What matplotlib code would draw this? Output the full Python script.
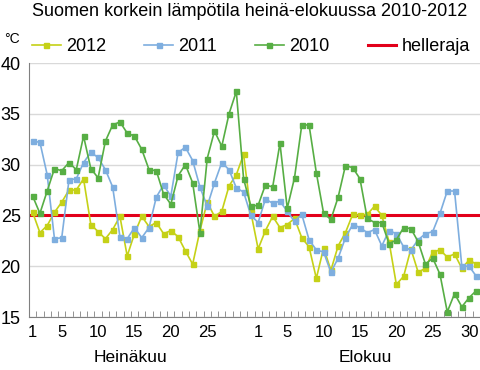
import numpy as np
import matplotlib.pyplot as plt

plt.rcParams['font.family'] = ['Liberation Sans', 'DejaVu Sans']

# highest daily temperature in Finland, July + August (31 + 31 days)
t2012 = [25.3, 23.3, 24.0, 25.3, 26.3, 27.5, 27.5, 28.6, 24.1, 23.4,
         22.7, 23.6, 24.9, 21.0, 23.2, 24.9, 23.9, 24.3, 23.2, 23.5,
         22.9, 21.5, 20.2, 23.5, 26.3, 24.9, 25.4, 27.9, 29.0, 31.0, 25.3,
         21.7, 23.5, 24.9, 23.8, 24.1, 24.7, 22.8, 21.9, 18.8, 21.8,
         19.6, 22.0, 23.3, 25.1, 25.0, 25.1, 25.9, 25.0, 22.4, 18.2,
         19.0, 21.7, 19.4, 19.8, 21.4, 21.6, 20.9, 21.2, 19.8, 20.6, 20.2]
t2011 = [32.3, 32.2, 29.0, 22.7, 22.8, 28.5, 28.6, 30.2, 31.2, 30.7,
         29.5, 27.8, 22.9, 22.7, 23.8, 22.8, 23.8, 26.8, 28.0, 26.9,
         31.2, 31.7, 30.4, 27.8, 25.9, 28.2, 30.2, 29.5, 27.7, 27.3, 25.0,
         24.3, 26.6, 26.2, 26.4, 25.4, 24.4, 25.1, 22.6, 21.6, 21.4,
         19.4, 20.8, 22.8, 24.1, 23.8, 23.3, 23.6, 22.0, 23.5, 23.2,
         21.9, 21.6, 22.6, 23.2, 23.4, 25.2, 27.4, 27.4, 20.0, 20.0, 19.0]
t2010 = [26.9, 25.2, 27.4, 29.6, 29.4, 30.2, 29.5, 32.8, 29.6, 28.7,
         32.3, 33.9, 34.2, 33.1, 32.8, 31.5, 29.5, 29.4, 27.1, 26.1,
         28.9, 30.0, 28.2, 23.3, 30.6, 33.3, 31.8, 35.0, 37.2, 28.6, 25.9,
         26.0, 28.0, 27.8, 32.1, 25.7, 28.7, 33.9, 33.9, 29.2, 25.2,
         24.6, 26.8, 29.9, 29.7, 28.6, 24.7, 24.3, 24.3, 22.2, 22.6,
         23.8, 23.7, 22.4, 20.2, 20.8, 19.2, 15.5, 17.3, 16.0, 16.9, 17.6]
helleraja = 25

july_ticks = [1, 5, 10, 15, 20, 25]
august_ticks = [1, 5, 10, 15, 20, 25, 30]
months = ['Heinäkuu', 'Elokuu']

x = np.arange(len(t2012))

fig = plt.figure(figsize=(4.8, 3.7), dpi=100)
ax = fig.add_axes([29 / 480, 53 / 370, 451 / 480, 254 / 370])

ax.axhline(helleraja, color='#E2001A', lw=2.2, zorder=2, label='helleraja')
series = [('2012', t2012, '#C5D117'), ('2011', t2011, '#7EAEDF'), ('2010', t2010, '#57AE44')]
for name, vals, col in series:
    ax.plot(x, vals, color=col, lw=1.2, marker='s', ms=3.6, label=name, zorder=3)

ax.set_xlim(-0.5, len(x) - 0.5)
ax.set_ylim(15, 40)
ax.set_yticks(range(15, 41, 5))
ax.tick_params(axis='y', length=0, labelsize=13, pad=6)
ax.grid(axis='y', color='#D9D9D9', lw=1)
ax.set_axisbelow(True)

pos = [d - 1 for d in july_ticks] + [31 + d - 1 for d in august_ticks]
ax.set_xticks(pos)
ax.set_xticklabels([str(d) for d in july_ticks + august_ticks])
ax.tick_params(axis='x', length=0, labelsize=12, pad=6)
ax.set_xticks(np.arange(-0.5, len(x)), minor=True)
ax.tick_params(axis='x', which='minor', direction='in', length=4, color='#808080')

for s in ['top', 'right']:
    ax.spines[s].set_visible(False)
for s in ['left', 'bottom']:
    ax.spines[s].set_color('#808080')

ax.text(13.4, -0.16, months[0], transform=ax.get_xaxis_transform(), ha='center', va='center', fontsize=12.5)
ax.text(45.7, -0.16, months[1], transform=ax.get_xaxis_transform(), ha='center', va='center', fontsize=12.5)

handles, labels = ax.get_legend_handles_labels()
order = [1, 2, 3, 0]
ax.legend([handles[i] for i in order], [labels[i] for i in order], ncol=4, frameon=False,
          loc='center left', bbox_to_anchor=(-0.01, 1.063), fontsize=13,
          handlelength=1.6, handletextpad=0.3, columnspacing=2.1, borderaxespad=0)

fig.text(0.52, 0.968, 'Suomen korkein lämpötila heinä-elokuussa 2010-2012',
         ha='center', va='center', fontsize=13)
fig.text(12 / 480, 1 - 39 / 370, '°C', ha='center', va='center', fontsize=10)

fig.savefig('out.png', dpi=100)
